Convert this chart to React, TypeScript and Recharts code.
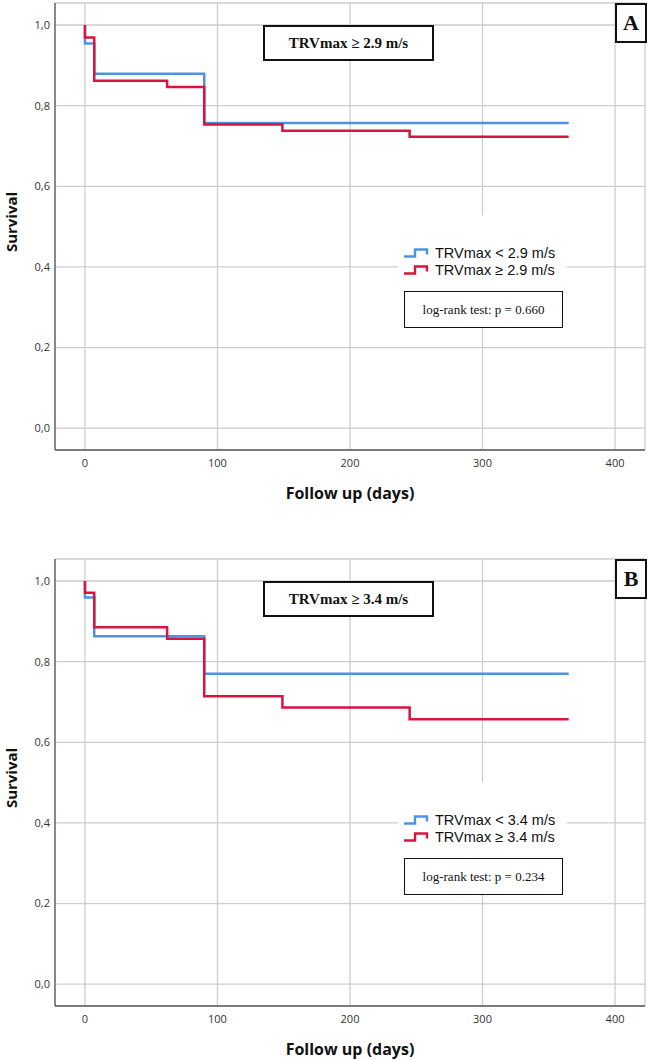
import React from "react";
import { LineChart, Line, XAxis, YAxis, CartesianGrid, Label } from "recharts";

// panel A: TRVmax cut-off 2.9 m/s
const A_LOW_T = [0, 0, 7, 90, 365];
const A_LOW_S = [1.0, 0.954, 0.879, 0.757, 0.757];
const A_HIGH_T = [0, 0, 7, 62, 90, 149, 245, 365];
const A_HIGH_S = [1.0, 0.969, 0.862, 0.846, 0.753, 0.738, 0.723, 0.723];

// panel B: TRVmax cut-off 3.4 m/s
const B_LOW_T = [0, 0, 7, 90, 365];
const B_LOW_S = [1.0, 0.959, 0.863, 0.77, 0.77];
const B_HIGH_T = [0, 0, 7, 62, 90, 149, 245, 365];
const B_HIGH_S = [1.0, 0.971, 0.885, 0.857, 0.714, 0.686, 0.657, 0.657];

const X_TICKS = [0, 100, 200, 300, 400];
const Y_TICKS = [0, 0.2, 0.4, 0.6, 0.8, 1.0];

const BLUE = "#4f92e3";
const RED = "#d9143f";
const GRID = "#cdcdcd";
const AXIS = "#5a5a5a";
const SERIF = "'Liberation Serif', 'Times New Roman', serif";
const SANS = "'Open Sans', 'Noto Sans', sans-serif";

const toRows = (t: number[], s: number[]) => t.map((d, i) => ({ t: d, s: s[i] }));

function StepIcon({ color }: { color: string }) {
  return (
    <svg width={26} height={10} style={{ display: "block" }}>
      <path d="M1 8.5 H12 V1.5 H24 V6.5" fill="none" stroke={color} strokeWidth={2.4} />
    </svg>
  );
}

type PanelProps = {
  top: number;
  letter: string;
  title: string;
  lowLabel: string;
  highLabel: string;
  pText: string;
  legendTop: number;
  low: { t: number; s: number }[];
  high: { t: number; s: number }[];
};

function Panel({ top, letter, title, lowLabel, highLabel, pText, legendTop, low, high }: PanelProps) {
  return (
    <div style={{ position: "absolute", left: 0, top, width: 649, height: 504 }}>
      <LineChart width={649} height={504} margin={{ top: 3, right: 4, bottom: 0, left: 0 }}>
        <CartesianGrid stroke={GRID} strokeWidth={1.3} />
        <XAxis
          type="number"
          dataKey="t"
          domain={[-22.6, 422.6]}
          ticks={X_TICKS}
          allowDataOverflow
          height={54}
          tickLine={false}
          tickSize={6}
          tickMargin={3}
          axisLine={{ stroke: AXIS, strokeWidth: 1.3 }}
          tick={{ fontSize: 11, fill: "#333", fontFamily: SANS }}
        >
          <Label
            value="Follow up (days)"
            position="insideBottom"
            offset={5}
            style={{ fontSize: 16, fontWeight: 700, fill: "#111", fontFamily: SANS }}
          />
        </XAxis>
        <YAxis
          type="number"
          domain={[-0.054, 1.0545]}
          ticks={Y_TICKS}
          allowDataOverflow
          width={55}
          tickLine={false}
          tickSize={3}
          tickMargin={2}
          axisLine={{ stroke: AXIS, strokeWidth: 1.3 }}
          tickFormatter={(v: number) => v.toFixed(1).replace(".", ",")}
          tick={{ fontSize: 11, fill: "#333", fontFamily: SANS }}
        >
          <Label
            content={() => (
              <text
                x={11}
                y={222}
                transform="rotate(-90 11 222)"
                textAnchor="middle"
                dominantBaseline="central"
                style={{ fontSize: 15, fontWeight: 700, fill: "#111", fontFamily: SANS }}
              >
                Survival
              </text>
            )}
          />
        </YAxis>
        <Line data={low} dataKey="s" type="stepAfter" stroke={BLUE} strokeWidth={2.5} dot={false} isAnimationActive={false} />
        <Line data={high} dataKey="s" type="stepAfter" stroke={RED} strokeWidth={2.5} dot={false} isAnimationActive={false} />
      </LineChart>

      {/* title box */}
      <div
        style={{
          position: "absolute", left: 263, top: 25, width: 171, height: 36, boxSizing: "border-box",
          border: "2px solid #111", background: "#fff", display: "flex", alignItems: "center",
          justifyContent: "center", fontFamily: SERIF, fontWeight: 700, fontSize: 15, color: "#111",
        }}
      >
        {title}
      </div>

      {/* panel letter */}
      <div
        style={{
          position: "absolute", left: 615, top: 3, width: 32, height: 40, boxSizing: "border-box",
          border: "2px solid #111", background: "#fff", display: "flex", alignItems: "center",
          justifyContent: "center", fontFamily: SERIF, fontWeight: 700, fontSize: 22, color: "#111",
        }}
      >
        {letter}
      </div>

      {/* legend */}
      <div style={{ position: "absolute", left: 398, top: legendTop, width: 169, height: 76, background: "#fff" }}>
        {[{ c: BLUE, l: lowLabel, y: 38 }, { c: RED, l: highLabel, y: 55 }].map(r => (
          <div
            key={r.l}
            style={{ position: "absolute", left: 5, top: r.y - 9, height: 18, display: "flex", alignItems: "center", gap: 6 }}
          >
            <StepIcon color={r.c} />
            <span style={{ fontFamily: "'Liberation Sans', Arial, sans-serif", fontSize: 14.5, color: "#111", whiteSpace: "nowrap" }}>
              {r.l}
            </span>
          </div>
        ))}
      </div>
      <div
        style={{
          position: "absolute", left: 404, top: legendTop + 76, width: 159, height: 37, boxSizing: "border-box",
          border: "1.5px solid #111", background: "#fff", display: "flex", alignItems: "center",
          justifyContent: "center", fontFamily: SERIF, fontSize: 13, color: "#111",
        }}
      >
        {pText}
      </div>
    </div>
  );
}

export default function App() {
  return (
    <div style={{ position: "absolute", left: 0, top: 0, width: 649, height: 1060, background: "#fff" }}>
      <Panel
        top={0}
        letter="A"
        title="TRVmax ≥ 2.9 m/s"
        lowLabel="TRVmax < 2.9 m/s"
        highLabel="TRVmax ≥ 2.9 m/s"
        pText="log-rank test: p = 0.660"
        legendTop={215}
        low={toRows(A_LOW_T, A_LOW_S)}
        high={toRows(A_HIGH_T, A_HIGH_S)}
      />
      <Panel
        top={556}
        letter="B"
        title="TRVmax ≥ 3.4 m/s"
        lowLabel="TRVmax < 3.4 m/s"
        highLabel="TRVmax ≥ 3.4 m/s"
        pText="log-rank test: p = 0.234"
        legendTop={226}
        low={toRows(B_LOW_T, B_LOW_S)}
        high={toRows(B_HIGH_T, B_HIGH_S)}
      />
    </div>
  );
}
